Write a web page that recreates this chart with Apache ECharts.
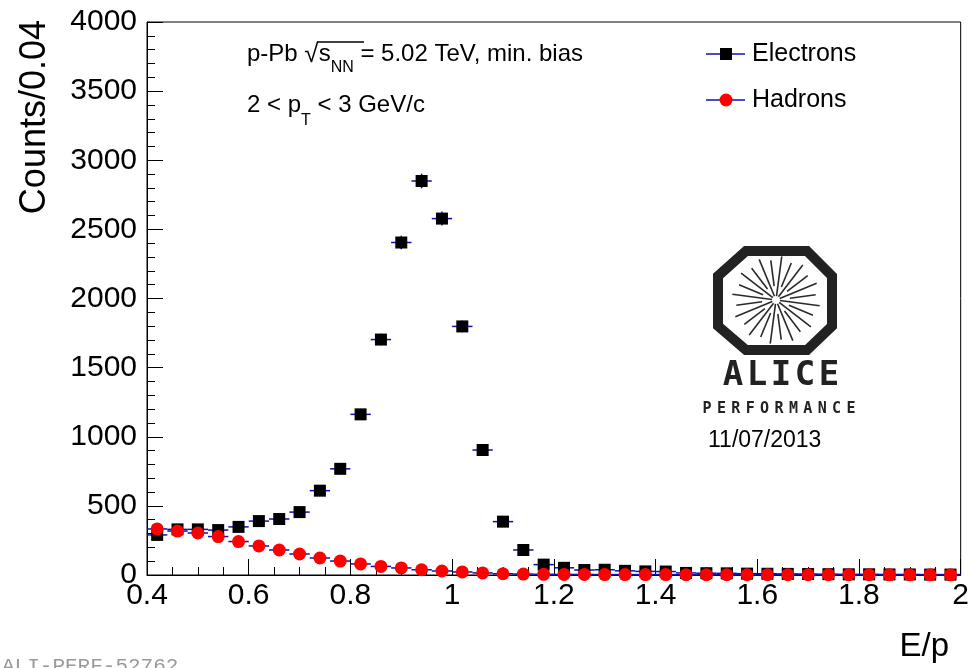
<!DOCTYPE html>
<html><head><meta charset="utf-8">
<script src="https://cdn.jsdelivr.net/npm/echarts@6/dist/echarts.min.js"></script>
<style>html,body{margin:0;padding:0;background:#fff}#c{width:972px;height:668px}</style>
</head><body><div id="c"></div>
<script>
// ---- data (bin centers of E/p, bin width 0.04) ----
const binCenters = [0.42,0.46,0.50,0.54,0.58,0.62,0.66,0.70,0.74,0.78,0.82,0.86,0.90,0.94,0.98,1.02,1.06,1.10,1.14,1.18,1.22,1.26,1.30,1.34,1.38,1.42,1.46,1.50,1.54,1.58,1.62,1.66,1.70,1.74,1.78,1.82,1.86,1.90,1.94,1.98];
const electrons = [290,330,330,325,348,390,405,455,610,768,1162,1703,2405,2850,2578,1798,904,386,181,75,52,36,38,30,26,25,15,13,12,10,9,8,7,6,5,5,4,4,3,3];
const hadrons = [333,318,304,278,242,210,181,152,123,101,80,62,51,38,29,22,15,9,7,5,4,4,3,3,3,3,2,2,2,2,2,2,2,2,2,2,1,1,1,1];
const binWidth = 0.04;
const xTickLabels = ['0.4','0.6','0.8','1','1.2','1.4','1.6','1.8','2'];
const yTickLabels = ['0','500','1000','1500','2000','2500','3000','3500','4000'];
const legendNames = ['Electrons','Hadrons'];

const BLUE = '#1010b0';
const FONT = 'Liberation Sans, Arial, Helvetica, sans-serif';

function errRender(params, api){
  const x = api.value(0), y = api.value(1);
  const c = api.coord([x, y]);
  const l = api.coord([x - binWidth/2, y]);
  const r = api.coord([x + binWidth/2, y]);
  const e = Math.sqrt(y);
  const t = api.coord([x, y + e]);
  const b = api.coord([x, Math.max(y - e, 0)]);
  return {type:'group', children:[
    {type:'line', shape:{x1:l[0], y1:c[1], x2:r[0], y2:c[1]}, style:{stroke:BLUE, lineWidth:1.5}},
    {type:'line', shape:{x1:c[0], y1:t[1], x2:c[0], y2:b[1]}, style:{stroke:BLUE, lineWidth:1.5}}
  ]};
}

const eData = binCenters.map((x,i)=>[x, electrons[i]]);
const hData = binCenters.map((x,i)=>[x, hadrons[i]]);

// ALICE logo pieces
const logoCx = 776, logoCy = 300;
const spokes = [];
for (let i = 0; i < 24; i++) {
  const a = i * Math.PI / 12 + Math.PI/24;
  const r0 = (i % 2 === 0) ? 4 : 14;
  const r1 = (i % 2 === 0) ? 44 : 40;
  spokes.push({type:'line', shape:{x1:logoCx + r0*Math.cos(a), y1:logoCy + r0*Math.sin(a), x2:logoCx + r1*Math.cos(a), y2:logoCy + r1*Math.sin(a)}, style:{stroke:'#2a2a2a', lineWidth:1.6}});
}
const aliceChars = 'ALICE'.split('').map((ch,i)=>({type:'text', x:733 + i*24, y:376, style:{text:ch, fontFamily:'DejaVu Sans Mono', fontWeight:'bold', fontSize:34, fill:'#222', align:'center', verticalAlign:'middle'}}));
const perfChars = 'PERFORMANCE'.split('').map((ch,i)=>({type:'text', x:707 + i*14.4, y:409, style:{text:ch, fontFamily:'DejaVu Sans Mono', fontWeight:'bold', fontSize:15, fill:'#222', align:'center', verticalAlign:'middle'}}));

const chart = echarts.init(document.getElementById('c'), null, {renderer:'canvas'});
chart.setOption({
  backgroundColor:'#fff',
  animation:false,
  grid:{left:147, right:10, top:22, bottom:93, show:true, borderColor:'#000', borderWidth:1, backgroundColor:'transparent'},
  xAxis:{type:'value', min:0.4, max:2.0, interval:0.2,
    axisLine:{show:true, onZero:false, lineStyle:{color:'#000', width:1}},
    axisTick:{show:true, inside:true, length:16, lineStyle:{color:'#000'}},
    minorTick:{show:true, splitNumber:4, length:8, lineStyle:{color:'#000'}},
    splitLine:{show:false},
    axisLabel:{color:'#000', fontSize:30, fontFamily:FONT, margin:6,
      formatter:(v)=>{const i = Math.round((v-0.4)/0.2); return xTickLabels[i] !== undefined ? xTickLabels[i] : '';}}
  },
  yAxis:{type:'value', min:0, max:4000, interval:500,
    axisLine:{show:true, lineStyle:{color:'#000', width:1}},
    axisTick:{show:true, inside:true, length:16, lineStyle:{color:'#000'}},
    minorTick:{show:true, splitNumber:5, length:8, lineStyle:{color:'#000'}},
    splitLine:{show:false},
    axisLabel:{color:'#000', fontSize:30, fontFamily:FONT, margin:10,
      formatter:(v)=>{const i = Math.round(v/500); return yTickLabels[i] !== undefined ? yTickLabels[i] : '';}}
  },
  series:[
    {type:'custom', name:legendNames[0]+' err', renderItem:errRender, data:eData, z:2, clip:false},
    {type:'scatter', name:legendNames[0], data:eData, symbol:'rect', symbolSize:12, itemStyle:{color:'#000', opacity:1}, z:3, clip:false},
    {type:'custom', name:legendNames[1]+' err', renderItem:errRender, data:hData, z:4, clip:false},
    {type:'scatter', name:legendNames[1], data:hData, symbol:'circle', symbolSize:13, itemStyle:{color:'#ff0000', opacity:1}, z:5, clip:false}
  ],
  graphic:[
    // axis titles
    {type:'text', x:17, y:20, rotation:Math.PI/2, style:{text:'Counts/0.04', fontFamily:FONT, fontSize:36, fill:'#000', align:'right', verticalAlign:'top'}},
    {type:'text', x:949, y:663, style:{text:'E/p', fontFamily:FONT, fontSize:33, fill:'#000', align:'right', verticalAlign:'bottom'}},
    // annotation
    {type:'text', x:247, y:42, style:{
      text:'{a|p-Pb }{r|√}{s|s}{sub|NN}{a| = 5.02 TeV, min. bias}',
      fontFamily:FONT, fill:'#000', verticalAlign:'top',
      rich:{
        a:{fontFamily:FONT, fontSize:24, lineHeight:28, verticalAlign:'top', fill:'#000'},
        r:{fontFamily:FONT, fontSize:26, lineHeight:28, verticalAlign:'top', fill:'#000'},
        s:{fontFamily:FONT, fontSize:24, lineHeight:28, verticalAlign:'top', fill:'#000'},
        sub:{fontFamily:FONT, fontSize:16, lineHeight:18, padding:[18,0,0,0], verticalAlign:'top', fill:'#000'}
      }}},
    {type:'line', shape:{x1:317, y1:42, x2:364, y2:42}, style:{stroke:'#000', lineWidth:1.5}},
    {type:'text', x:247, y:93, style:{
      text:'{a|2 < p}{sub|T}{a| < 3 GeV/c}',
      fontFamily:FONT, fill:'#000', verticalAlign:'top',
      rich:{
        a:{fontFamily:FONT, fontSize:24, lineHeight:28, verticalAlign:'top', fill:'#000'},
        sub:{fontFamily:FONT, fontSize:16, lineHeight:18, padding:[20,0,0,0], verticalAlign:'top', fill:'#000'}
      }}},
    // legend
    {type:'line', shape:{x1:706, y1:54, x2:745, y2:54}, style:{stroke:BLUE, lineWidth:1.5}},
    {type:'rect', shape:{x:720, y:48, width:12, height:12}, style:{fill:'#000'}},
    {type:'text', x:752, y:54, style:{text:legendNames[0], fontFamily:FONT, fontSize:25, fill:'#000', verticalAlign:'middle'}},
    {type:'line', shape:{x1:706, y1:100, x2:745, y2:100}, style:{stroke:BLUE, lineWidth:1.5}},
    {type:'circle', shape:{cx:726, cy:100, r:6.5}, style:{fill:'#ff0000'}},
    {type:'text', x:752, y:100, style:{text:legendNames[1], fontFamily:FONT, fontSize:25, fill:'#000', verticalAlign:'middle'}},
    // ALICE logo
    {type:'group', children:[
      {type:'polygon', shape:{points:[[746,251],[807,251],[832,276],[832,326],[807,350],[746,350],[718,326],[718,276]]}, style:{fill:'#fff', stroke:'#222', lineWidth:10, lineJoin:'miter'}}
    ].concat(spokes).concat(aliceChars).concat(perfChars)},
    {type:'text', x:708, y:441, style:{text:'11/07/2013', fontFamily:FONT, fontSize:23, fill:'#000', verticalAlign:'middle'}},
    {type:'text', x:2, y:656, style:{text:'ALI-PERF-52762', fontFamily:'Liberation Mono, DejaVu Sans Mono, monospace', fontSize:21, fill:'#9a9a9a', verticalAlign:'top'}}
  ]
});
</script>
</body></html>
